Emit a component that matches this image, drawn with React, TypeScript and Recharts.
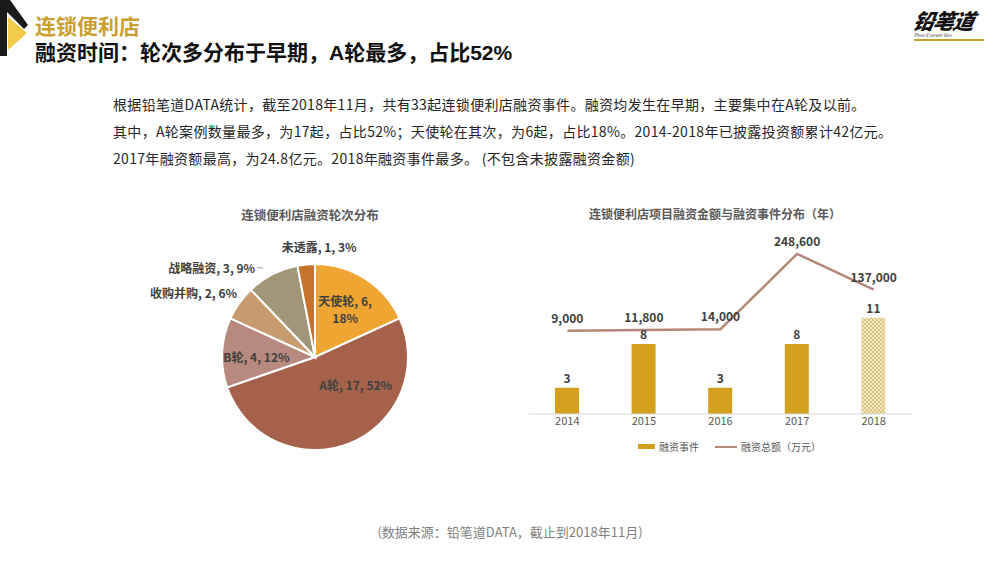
import {
  PieChart, Pie, Cell, ComposedChart, Bar, Line, XAxis, YAxis, LabelList,
} from 'recharts';

// pie: funding rounds
const rounds = ['天使轮', 'A轮', 'B轮', '收购并购', '战略融资', '未透露'];
const roundCounts = [6, 17, 4, 2, 3, 1];
const roundColors = ['#F0A431', '#A6614B', '#B88A7F', '#C89B6E', '#A29678', '#C7732B'];

// bars + line: by year
const years = ['2014', '2015', '2016', '2017', '2018'];
const eventCounts = [3, 8, 3, 8, 11];
const amounts = [9000, 11800, 14000, 248600, 137000];

const pieData = rounds.map((name, i) => ({ name, value: roundCounts[i] }));
const yearData = years.map((year, i) => ({ year, events: eventCounts[i], amount: amounts[i] }));

const FONT = '"Noto Sans CJK SC", "Noto Sans", sans-serif';
const HEAD_FONT = '"Liberation Sans", "Noto Sans CJK SC", sans-serif';
const RAD = Math.PI / 180;

const labelPlacement: Record<string, { r: number; shift: number; anchor: 'start' | 'middle' | 'end'; wrap?: boolean; leader?: boolean }> = {
  '天使轮': { r: 0.6, shift: 0, anchor: 'middle', wrap: true },
  'A轮': { r: 0.53, shift: 34, anchor: 'middle' },
  'B轮': { r: 0.63, shift: 2.7, anchor: 'middle' },
  '收购并购': { r: 1.09, shift: -4.3, anchor: 'end' },
  '战略融资': { r: 1.16, shift: 6.4, anchor: 'end', leader: true },
  '未透露': { r: 1.19, shift: -7.6, anchor: 'middle' },
};

const renderPieLabel = (props: any) => {
  const { cx, cy, midAngle, outerRadius, name, value, percent } = props;
  const p = labelPlacement[name];
  const a = (midAngle + p.shift) * RAD;
  const x = cx + outerRadius * p.r * Math.cos(a);
  const y = cy - outerRadius * p.r * Math.sin(a);
  const pct = `${Math.round(percent * 100)}%`;
  const style = { fontFamily: FONT, fontSize: 12, fontWeight: 'bold' as const, fill: '#404040' };
  if (p.wrap) {
    return (
      <text x={x} y={y} textAnchor="middle" style={style}>
        <tspan x={x} dy={-4}>{`${name}, ${value},`}</tspan>
        <tspan x={x} dy={17}>{pct}</tspan>
      </text>
    );
  }
  return (
    <g>
      {p.leader && <line x1={x + 2} y1={y} x2={x + 8} y2={y + 1} stroke="#A6A6A6" strokeWidth={1} />}
      <text x={x} y={y} textAnchor={p.anchor} dominantBaseline="central" style={style}>
        {`${name}, ${value}, ${pct}`}
      </text>
    </g>
  );
};

const boldLabel = { fontFamily: FONT, fontSize: 12, fontWeight: 'bold', fill: '#404040' };

export default function App() {
  return (
    <div style={{ position: 'absolute', left: 0, top: 0, width: 1000, height: 563, background: '#fff', fontFamily: FONT, overflow: 'hidden' }}>
      {/* corner arrow */}
      <svg width={40} height={60} style={{ position: 'absolute', left: 0, top: 0 }}>
        <polygon points="0,0 10,0 28,25 24,29 7,12 7,56 0,56" fill="#1A1A1A" />
        <polygon points="8,17 27,33 8,50" fill="#F2CC48" />
      </svg>
      <div style={{ position: 'absolute', left: 35, top: 15, fontFamily: HEAD_FONT, fontSize: 21, fontWeight: 'bold', color: '#C9A030', lineHeight: '24px' }}>连锁便利店</div>
      <div style={{ position: 'absolute', left: 35, top: 41, fontFamily: HEAD_FONT, fontSize: 21, fontWeight: 'bold', color: '#111', lineHeight: '24px', whiteSpace: 'nowrap' }}>
        融资时间：轮次多分布于早期，A轮最多，占比52%
      </div>

      {/* logo */}
      <div style={{ position: 'absolute', left: 914, top: 8, width: 74 }}>
        <div style={{ fontSize: 21, fontWeight: 900, fontStyle: 'italic', transform: 'skewX(-12deg)', color: '#111', lineHeight: '24px', letterSpacing: -1 }}>铅笔道</div>
        <div style={{ fontSize: 5, fontStyle: 'italic', color: '#333', lineHeight: '6px', marginTop: 0 }}>Pencil never lies</div>
        <div style={{ height: 2, width: 70, background: '#C9A030', marginTop: 1 }} />
      </div>

      <div style={{ position: 'absolute', left: 113, top: 91, fontSize: 14, color: '#262626', lineHeight: '27px', whiteSpace: 'nowrap', letterSpacing: 0.32 }}>
        <div>根据铅笔道DATA统计，截至2018年11月，共有33起连锁便利店融资事件。融资均发生在早期，主要集中在A轮及以前。</div>
        <div>其中，A轮案例数量最多，为17起，占比52%；天使轮在其次，为6起，占比18%。2014-2018年已披露投资额累计42亿元。</div>
        <div>2017年融资额最高，为24.8亿元。2018年融资事件最多。 (不包含未披露融资金额)</div>
      </div>

      <div style={{ position: 'absolute', left: 130, top: 205, width: 360, textAlign: 'center', fontSize: 12.5, fontWeight: 'bold', color: '#595959' }}>
        连锁便利店融资轮次分布
      </div>
      <div style={{ position: 'absolute', left: 515, top: 205, width: 400, textAlign: 'center', fontSize: 12, fontWeight: 'bold', color: '#595959' }}>
        连锁便利店项目融资金额与融资事件分布（年）
      </div>

      <div style={{ position: 'absolute', left: 130, top: 225 }}>
        <PieChart width={360} height={260}>
          <Pie
            data={pieData}
            dataKey="value"
            nameKey="name"
            cx={180}
            cy={127}
            outerRadius={93}
            startAngle={90}
            endAngle={-270}
            stroke="#fff"
            strokeWidth={2}
            label={renderPieLabel}
            labelLine={false}
            isAnimationActive={false}
          >
            {pieData.map((d, i) => <Cell key={d.name} fill={roundColors[i]} />)}
          </Pie>
        </PieChart>
      </div>

      <div style={{ position: 'absolute', left: 510, top: 225 }}>
        <ComposedChart width={420} height={240} data={yearData} margin={{ top: 14, right: 18, left: 19, bottom: 31 }}>
          <defs>
            <pattern id="checker" width={4} height={4} patternUnits="userSpaceOnUse">
              <rect width={4} height={4} fill="#F2E8C4" />
              <rect width={2} height={2} fill="#DCC57E" />
              <rect x={2} y={2} width={2} height={2} fill="#DCC57E" />
            </pattern>
          </defs>
          <XAxis
            dataKey="year"
            tickLine={false}
            axisLine={{ stroke: '#D9D9D9' }}
            tick={{ fill: '#595959', fontSize: 11, fontFamily: FONT }}
            tickSize={3}
            tickMargin={0}
            height={20}
          />
          <YAxis yAxisId="count" hide domain={[0, 20]} />
          <YAxis yAxisId="amount" hide orientation="right" domain={[-250000, 295000]} />
          <Bar yAxisId="count" dataKey="events" barSize={24} isAnimationActive={false}>
            {yearData.map((d, i) => (
              <Cell key={d.year} fill={i === yearData.length - 1 ? 'url(#checker)' : '#D4A11E'} />
            ))}
            <LabelList dataKey="events" position="top" offset={5} style={boldLabel} />
          </Bar>
          <Line
            yAxisId="amount"
            dataKey="amount"
            type="linear"
            stroke="#B5877A"
            strokeWidth={2.5}
            dot={false}
            isAnimationActive={false}
          >
            <LabelList dataKey="amount" position="top" offset={8} style={boldLabel} formatter={(v: any) => Number(v).toLocaleString('en-US')} />
          </Line>
        </ComposedChart>
      </div>

      {/* legend */}
      <div style={{ position: 'absolute', left: 638, top: 439, display: 'flex', alignItems: 'center', fontSize: 10, color: '#595959', whiteSpace: 'nowrap' }}>
        <span style={{ display: 'inline-block', width: 17, height: 5, background: '#D4A11E', marginRight: 4 }} />
        <span style={{ marginRight: 16 }}>融资事件</span>
        <span style={{ display: 'inline-block', width: 22, height: 2, background: '#B5877A', marginRight: 4 }} />
        <span>融资总额（万元）</span>
      </div>

      <div style={{ position: 'absolute', left: 0, top: 522, width: 1020, textAlign: 'center', fontSize: 13, color: '#7F7F7F' }}>
        (数据来源：铅笔道DATA，截止到2018年11月)
      </div>
    </div>
  );
}
